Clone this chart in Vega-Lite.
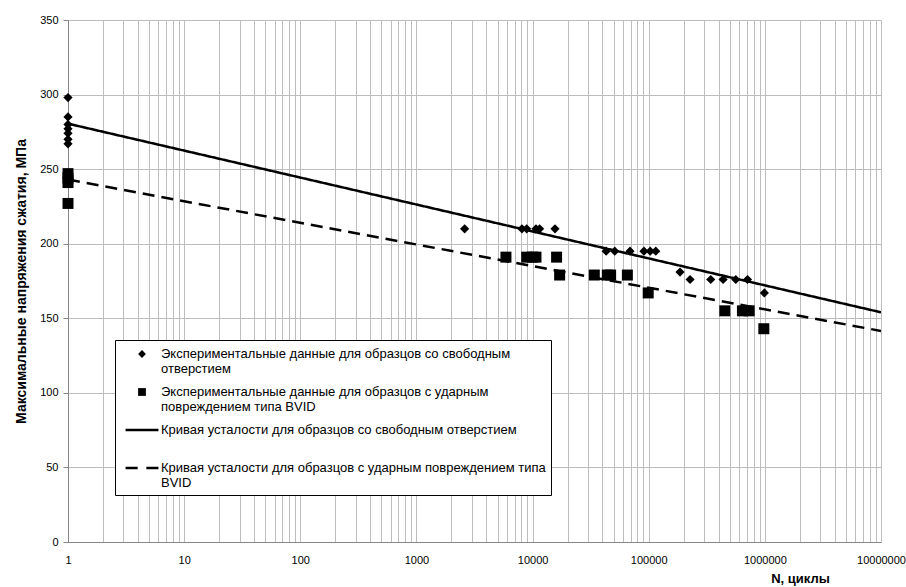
{
  "$schema": "https://vega.github.io/schema/vega-lite/v6.json",
  "width": 813,
  "height": 522,
  "autosize": {"type": "none"},
  "padding": {"left": 68, "top": 20, "right": 25, "bottom": 45},
  "background": "white",
  "config": {
    "view": {"stroke": null},
    "font": "Liberation Sans",
    "axis": {
      "labelFont": "Liberation Sans",
      "labelFontSize": 11,
      "labelColor": "#000000",
      "titleFont": "Liberation Sans",
      "titleColor": "#000000",
      "titleFontWeight": "bold",
      "titleFontSize": 13,
      "gridColor": "#bdbdbd",
      "gridWidth": 1,
      "gridOpacity": 1,
      "domainColor": "#868686",
      "tickColor": "#868686"
    }
  },
  "datasets": {
    "free": [
      {"N": 1, "S": 298, "series": "Экспериментальные  данные для образцов со свободным отверстием"},
      {"N": 1, "S": 285, "series": "Экспериментальные  данные для образцов со свободным отверстием"},
      {"N": 1, "S": 280, "series": "Экспериментальные  данные для образцов со свободным отверстием"},
      {"N": 1, "S": 277, "series": "Экспериментальные  данные для образцов со свободным отверстием"},
      {"N": 1, "S": 274, "series": "Экспериментальные  данные для образцов со свободным отверстием"},
      {"N": 1, "S": 270, "series": "Экспериментальные  данные для образцов со свободным отверстием"},
      {"N": 1, "S": 267, "series": "Экспериментальные  данные для образцов со свободным отверстием"},
      {"N": 2600, "S": 210, "series": "Экспериментальные  данные для образцов со свободным отверстием"},
      {"N": 8100, "S": 210, "series": "Экспериментальные  данные для образцов со свободным отверстием"},
      {"N": 8900, "S": 210, "series": "Экспериментальные  данные для образцов со свободным отверстием"},
      {"N": 10700, "S": 210, "series": "Экспериментальные  данные для образцов со свободным отверстием"},
      {"N": 11500, "S": 210, "series": "Экспериментальные  данные для образцов со свободным отверстием"},
      {"N": 15600, "S": 210, "series": "Экспериментальные  данные для образцов со свободным отверстием"},
      {"N": 43000, "S": 195, "series": "Экспериментальные  данные для образцов со свободным отверстием"},
      {"N": 51000, "S": 195, "series": "Экспериментальные  данные для образцов со свободным отверстием"},
      {"N": 69000, "S": 195, "series": "Экспериментальные  данные для образцов со свободным отверстием"},
      {"N": 91000, "S": 195, "series": "Экспериментальные  данные для образцов со свободным отверстием"},
      {"N": 103000, "S": 195, "series": "Экспериментальные  данные для образцов со свободным отверстием"},
      {"N": 115000, "S": 195, "series": "Экспериментальные  данные для образцов со свободным отверстием"},
      {"N": 186000, "S": 181, "series": "Экспериментальные  данные для образцов со свободным отверстием"},
      {"N": 227000, "S": 176, "series": "Экспериментальные  данные для образцов со свободным отверстием"},
      {"N": 342000, "S": 176, "series": "Экспериментальные  данные для образцов со свободным отверстием"},
      {"N": 437000, "S": 176, "series": "Экспериментальные  данные для образцов со свободным отверстием"},
      {"N": 562000, "S": 176, "series": "Экспериментальные  данные для образцов со свободным отверстием"},
      {"N": 709000, "S": 176, "series": "Экспериментальные  данные для образцов со свободным отверстием"},
      {"N": 990000, "S": 167, "series": "Экспериментальные  данные для образцов со свободным отверстием"}
    ],
    "bvid": [
      {"N": 1, "S": 247, "series": "Экспериментальные  данные для образцов с ударным повреждением типа BVID"},
      {"N": 1, "S": 244, "series": "Экспериментальные  данные для образцов с ударным повреждением типа BVID"},
      {"N": 1, "S": 241, "series": "Экспериментальные  данные для образцов с ударным повреждением типа BVID"},
      {"N": 1, "S": 227, "series": "Экспериментальные  данные для образцов с ударным повреждением типа BVID"},
      {"N": 5900, "S": 191, "series": "Экспериментальные  данные для образцов с ударным повреждением типа BVID"},
      {"N": 8900, "S": 191, "series": "Экспериментальные  данные для образцов с ударным повреждением типа BVID"},
      {"N": 10000, "S": 191, "series": "Экспериментальные  данные для образцов с ударным повреждением типа BVID"},
      {"N": 10700, "S": 191, "series": "Экспериментальные  данные для образцов с ударным повреждением типа BVID"},
      {"N": 16100, "S": 191, "series": "Экспериментальные  данные для образцов с ударным повреждением типа BVID"},
      {"N": 17100, "S": 179, "series": "Экспериментальные  данные для образцов с ударным повреждением типа BVID"},
      {"N": 34000, "S": 179, "series": "Экспериментальные  данные для образцов с ударным повреждением типа BVID"},
      {"N": 44000, "S": 179, "series": "Экспериментальные  данные для образцов с ударным повреждением типа BVID"},
      {"N": 47000, "S": 179, "series": "Экспериментальные  данные для образцов с ударным повреждением типа BVID"},
      {"N": 65500, "S": 179, "series": "Экспериментальные  данные для образцов с ударным повреждением типа BVID"},
      {"N": 99000, "S": 167, "series": "Экспериментальные  данные для образцов с ударным повреждением типа BVID"},
      {"N": 452000, "S": 155, "series": "Экспериментальные  данные для образцов с ударным повреждением типа BVID"},
      {"N": 641000, "S": 155, "series": "Экспериментальные  данные для образцов с ударным повреждением типа BVID"},
      {"N": 733000, "S": 155, "series": "Экспериментальные  данные для образцов с ударным повреждением типа BVID"},
      {"N": 980000, "S": 143, "series": "Экспериментальные  данные для образцов с ударным повреждением типа BVID"}
    ],
    "curves": [
      {"N": 1, "S": 280.5, "series": "Кривая усталости для образцов со свободным отверстием"},
      {"N": 10000000, "S": 154, "series": "Кривая усталости для образцов со свободным отверстием"},
      {"N": 1, "S": 243, "series": "Кривая усталости для образцов с ударным повреждением типа BVID"},
      {"N": 10000000, "S": 141.5, "series": "Кривая усталости для образцов с ударным повреждением типа BVID"}
    ]
  },
  "encoding": {
    "x": {
      "field": "N",
      "type": "quantitative",
      "scale": {"type": "log", "domain": [1, 10000000], "nice": false},
      "axis": {
        "title": "N, циклы",
        "titleX": 732,
        "titleY": 36,
        "titleAlign": "center",
        "titleBaseline": "middle",
        "values": [1,2,3,4,5,6,7,8,9,10,20,30,40,50,60,70,80,90,100,200,300,400,500,600,700,800,900,1000,2000,3000,4000,5000,6000,7000,8000,9000,10000,20000,30000,40000,50000,60000,70000,80000,90000,100000,200000,300000,400000,500000,600000,700000,800000,900000,1000000,2000000,3000000,4000000,5000000,6000000,7000000,8000000,9000000,10000000],
        "labelExpr": "indexof([1,10,100,1000,10000,100000,1000000,10000000], datum.value) >= 0 ? format(datum.value, 'd') : ''",
        "labelOverlap": false,
        "labelFlush": false,
        "labelBound": false,
        "ticks": false,
        "labelPadding": 12,
        "grid": true
      }
    },
    "y": {
      "field": "S",
      "type": "quantitative",
      "scale": {"domain": [0, 350], "nice": false, "zero": true},
      "axis": {
        "title": "Максимальные напряжения сжатия, МПа",
        "titleFontSize": 14,
        "values": [0, 50, 100, 150, 200, 250, 300, 350],
        "grid": true,
        "tickSize": 5,
        "labelPadding": 5,
        "titlePadding": 11
      }
    }
  },
  "layer": [
    {
      "data": {"name": "curves"},
      "mark": {"type": "line", "color": "black", "strokeWidth": 2.5, "clip": true},
      "encoding": {
        "strokeDash": {
          "field": "series",
          "type": "nominal",
          "scale": {
            "domain": ["Кривая усталости для образцов со свободным отверстием", "Кривая усталости для образцов с ударным повреждением типа BVID"],
            "range": [[1, 0], [12, 7]]
          },
          "legend": null
        }
      }
    },
    {
      "data": {"name": "free"},
      "mark": {"type": "point", "filled": true, "color": "black", "opacity": 1, "size": 418},
      "encoding": {
        "shape": {
          "field": "series",
          "type": "nominal",
          "scale": {
            "domain": ["Экспериментальные  данные для образцов со свободным отверстием", "Экспериментальные  данные для образцов с ударным повреждением типа BVID", "Кривая усталости для образцов со свободным отверстием", "Кривая усталости для образцов с ударным повреждением типа BVID"],
            "range": ["M0,-0.45L0.45,0L0,0.45L-0.45,0Z", "M-0.45,-0.45H0.45V0.45H-0.45Z", "M-1.9,-0.144H1.9V0.144H-1.9Z", "M-1.9,-0.144H-0.5V0.144H-1.9Z M0.5,-0.144H1.9V0.144H0.5Z"]
          },
          "legend": {
            "orient": "none",
            "legendX": 47,
            "legendY": 320,
            "title": null,
            "fillColor": "white",
            "strokeColor": "black",
            "padding": 5,
            "symbolSize": 300,
            "symbolOffset": 13,
            "symbolFillColor": "black",
            "symbolStrokeColor": "black",
            "symbolStrokeWidth": 0,
            "symbolOpacity": 1,
            "labelFont": "Liberation Sans",
            "labelFontSize": 13,
            "labelColor": "#000000",
            "labelLimit": 700,
            "labelOffset": 10,
            "rowPadding": 7,
            "labelExpr": "indexof(datum.label, 'Кривая') < 0 && indexof(datum.label, 'BVID') < 0 ? ['Экспериментальные  данные для образцов со свободным', 'отверстием'] : indexof(datum.label, 'Кривая') < 0 ? ['Экспериментальные  данные для образцов с ударным', 'повреждением типа BVID'] : indexof(datum.label, 'BVID') >= 0 ? ['Кривая усталости для образцов с ударным повреждением типа', 'BVID'] : [datum.label, ' ']"
          }
        }
      }
    },
    {
      "data": {"name": "bvid"},
      "mark": {"type": "point", "filled": true, "color": "black", "opacity": 1, "size": 596},
      "encoding": {
        "shape": {"field": "series", "type": "nominal"}
      }
    }
  ]
}
